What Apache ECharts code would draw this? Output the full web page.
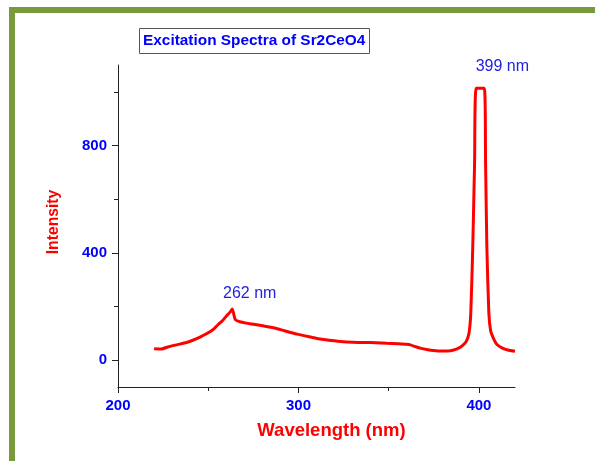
<!DOCTYPE html>
<html>
<head>
<meta charset="utf-8">
<script src="https://cdn.jsdelivr.net/npm/echarts@6/dist/echarts.min.js"></script>
<style>
  html, body { margin: 0; padding: 0; background: #fff; }
  #chart { width: 595px; height: 461px; }
</style>
</head>
<body>
<div id="chart"></div>
<script>
// wavelength (nm) and intensity
var wavelength = [220, 224, 228, 233, 238, 242.5, 246, 250, 253, 255.5, 258, 260, 262, 263.3, 264.2, 265, 267.5, 271, 276, 281, 286, 291, 295, 300, 306, 311, 317, 323, 330, 337, 343, 349, 355, 360, 362, 365, 368, 371, 375, 379, 383, 386, 389, 391, 393, 394.5, 395.5, 396.6, 397.6, 398.5, 403, 403.7, 404.4, 405.5, 406.5, 408, 410, 413, 416, 420];
var intensity  = [43, 42, 50, 58, 66, 77, 88, 102, 116, 133, 148, 164, 178, 191, 170, 151, 143, 138, 133, 127, 121, 112, 104, 96, 87, 80, 74, 70, 67, 66, 65, 63, 61, 59, 57, 50, 44, 40, 36, 34, 34, 38, 46, 55, 70, 100, 176, 424, 734, 1013, 1013, 734, 424, 176, 110, 82, 58, 45, 38, 33];

var xTicks = [200, 300, 400];
var xMinorTicks = [250, 350];
var yTicks = [0, 400, 800];
var yMinorTicks = [200, 600, 1000];

var peakText = ['262 nm', '399 nm'];
var peakAt = [[273, 247], [413, 1094]];

var font = 'Arial, "Liberation Sans", sans-serif';
var blue = '#0000ff';
var green = '#789a3d';

var points = [];
for (var i = 0; i < wavelength.length; i++) {
    points.push([wavelength[i], intensity[i]]);
}

var marks = [];
for (var j = 0; j < peakText.length; j++) {
    marks.push({ coord: peakAt[j], value: peakText[j] });
}

var chart = echarts.init(document.getElementById('chart'), null, { renderer: 'canvas' });

var option = {
    backgroundColor: '#fff',
    animation: false,
    title: {
        text: 'Excitation Spectra of Sr2CeO4',
        left: 139,
        top: 28,
        padding: [5, 4, 6, 4],
        borderColor: '#555',
        borderWidth: 1,
        textStyle: { color: blue, fontSize: 15.4, fontWeight: 'bold', fontFamily: font }
    },
    graphic: [
        { type: 'rect', shape: { x: 9, y: 7, width: 586, height: 6 }, style: { fill: green } },
        { type: 'rect', shape: { x: 9, y: 7, width: 6, height: 454 }, style: { fill: green } }
    ],
    grid: { left: 118, right: 80, top: 65, bottom: 74 },
    xAxis: [{
        type: 'value',
        min: 200,
        max: 420,
        name: 'Wavelength (nm)',
        nameLocation: 'middle',
        nameGap: 34,
        nameTextStyle: { color: '#ff0000', fontSize: 18.5, fontWeight: 'bold', fontFamily: font, padding: [0, 0, 0, 30] },
        axisLine: { onZero: false, lineStyle: { color: '#222', width: 1 } },
        axisTick: { customValues: xTicks, length: 6, lineStyle: { color: '#222' } },
        axisLabel: { customValues: xTicks, color: blue, fontSize: 15, fontWeight: 'bold', fontFamily: font, margin: 11 },
        splitLine: { show: false }
    }, {
        type: 'value',
        position: 'bottom',
        min: 200,
        max: 420,
        axisLine: { show: false, onZero: false },
        axisTick: { customValues: xMinorTicks, length: 4, lineStyle: { color: '#222' } },
        axisLabel: { show: false },
        splitLine: { show: false }
    }],
    yAxis: [{
        type: 'value',
        min: -100,
        max: 1100,
        name: 'Intensity',
        nameLocation: 'middle',
        nameGap: 56,
        nameTextStyle: { color: '#ff0000', fontSize: 15.7, fontWeight: 'bold', fontFamily: font, padding: [0, 0, 0, 8] },
        axisLine: { show: true, onZero: false, lineStyle: { color: '#222', width: 1 } },
        axisTick: { show: true, customValues: yTicks, length: 6, lineStyle: { color: '#222' } },
        axisLabel: { customValues: yTicks, color: blue, fontSize: 15, fontWeight: 'bold', fontFamily: font, margin: 11 },
        splitLine: { show: false }
    }, {
        type: 'value',
        position: 'left',
        min: -100,
        max: 1100,
        axisLine: { show: false, onZero: false },
        axisTick: { show: true, customValues: yMinorTicks, length: 4, lineStyle: { color: '#222' } },
        axisLabel: { show: false },
        splitLine: { show: false }
    }],
    series: [{
        type: 'line',
        data: points,
        showSymbol: false,
        smooth: 0.2,
        lineStyle: { color: '#ff0000', width: 3 },
        markPoint: {
            symbol: 'circle',
            symbolSize: 1,
            itemStyle: { color: 'rgba(0,0,0,0)' },
            label: {
                show: true,
                position: 'inside',
                formatter: '{c}',
                color: '#2222dd',
                fontSize: 16,
                fontFamily: font
            },
            data: marks
        }
    }]
};

chart.setOption(option);
</script>
</body>
</html>
